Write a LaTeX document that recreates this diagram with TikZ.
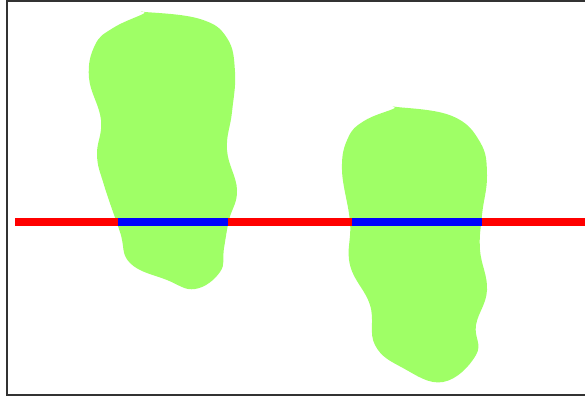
\documentclass[tikz,border=0pt]{standalone}
\definecolor{blobgreen}{RGB}{159,255,102}
\definecolor{framegray}{RGB}{50,50,50}
\tikzset{
  blob/.style={fill=blobgreen, draw=none},
  redline/.style={draw=red, line width=8pt},
  blueline/.style={draw=blue, line width=8pt},
  frame/.style={draw=framegray, line width=1.5pt}
}
\begin{document}
\begin{tikzpicture}[x=1pt,y=-1pt]
\useasboundingbox (0,0) rectangle (585,397);
% blob 1
\path[blob] plot[smooth cycle, tension=0.7] coordinates {
(145,12) (200,19) (227,38) (235,72) (232,112) (227,150) (237,190) (229,220) (224,248) (220,272) (195,289) (167,280) (130,263) (120,232) (104,185) (97,155) (101,120) (89,78) (95,45) (113,28) (143,14)};
% blob 2
\path[blob] plot[smooth cycle, tension=0.7] coordinates {
(397,107) (452,116) (480,142) (487,175) (482,215) (480,250) (487,290) (476,325) (476,355) (443,382) (403,368) (375,345) (370,305) (350,265) (350,222) (342,170) (348,138) (364,121) (393,109)};
% lines
\coordinate (rs) at (15,222);
\coordinate (re) at (585,222);
\coordinate (b1s) at (118,222);
\coordinate (b1e) at (228,222);
\coordinate (b2s) at (352,222);
\coordinate (b2e) at (482,222);
\draw[redline] (rs) -- (re);
\draw[blueline] (b1s) -- (b1e);
\draw[blueline] (b2s) -- (b2e);
% frame
\coordinate (f1) at (7,0.75);
\coordinate (f2) at (592,394.9);
\draw[frame] (f1) rectangle (f2);
\end{tikzpicture}
\end{document}
